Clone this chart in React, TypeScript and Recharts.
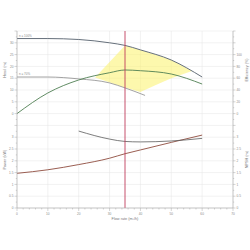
import {
  ComposedChart,
  Line,
  Area,
  XAxis,
  YAxis,
  CartesianGrid,
  ReferenceLine,
} from 'recharts';

// pump curves
const flow = [0, 10, 20, 30, 35, 40, 50, 60];
const headFull = [31.8, 31.8, 31.4, 30.0, 28.9, 27.0, 22.7, 15.5];
const efficiency = [0, 35, 57, 69.3, 73.9, 72.7, 67.1, 50.1];
const power = [1.47, 1.62, 1.84, 2.11, 2.3, 2.46, 2.78, 3.09];

const flowMin = [0, 10, 20, 30, 35, 41.5];
const headMin = [15.5, 15.5, 14.7, 13.0, 10.9, 7.7];

const flowNpsh = [20, 30, 35, 40, 50, 60];
const npsh = [3.26, 2.92, 2.82, 2.8, 2.84, 2.95];

// operating window (yellow)
const zoneFlow = [25.3, 35, 40, 45, 50, 56.7];
const zoneTop = [15.3, 28.9, 27.0, 24.9, 22.7, 18.0];
const zoneBottom = [15.3, 11.05, 9.15, 12.1, 15.0, 18.0];

const dutyFlow = 35;

const flowTicks = [0, 10, 20, 30, 40, 50, 60, 70];
const headTicks = [0, 5, 10, 15, 20, 25, 30];
const effTicks = [0, 20, 40, 60, 80, 100];
const powerTicks = [0, 0.5, 1, 1.5, 2, 2.5, 3];
const npshTicks = [0, 0.5, 1, 1.5, 2, 2.5, 3];

// the plot is split in 15 grid rows: lower 7 for power/npsh, upper for head/eff
const ROWS = 15;
const TOP_BASE = 8;
const HEAD_STEP = 5;
const EFF_STEP = 20;
const LOW_STEP = 0.5;

const fullData = flow.map((q, i) => ({ q, head: headFull[i], eff: efficiency[i], power: power[i] }));
const minData = flowMin.map((q, i) => ({ q, head: headMin[i] }));
const npshData = flowNpsh.map((q, i) => ({ q, npsh: npsh[i] }));
const zoneData = zoneFlow.map((q, i) => ({ q, range: [zoneBottom[i], zoneTop[i]] }));

const font = '"Liberation Sans", Arial, sans-serif';
const tickColor = '#8a8a8a';
const axisColor = '#a8a8a8';

const leftLabels: Record<string, string> = {};
headTicks.forEach((h) => (leftLabels[String(TOP_BASE + h / HEAD_STEP)] = String(h)));
powerTicks.forEach((p) => (leftLabels[String(p / LOW_STEP)] = String(p)));
const rightLabels: Record<string, string> = {};
effTicks.forEach((e) => (rightLabels[String(TOP_BASE + e / EFF_STEP)] = String(e)));
npshTicks.forEach((n) => (rightLabels[String(n / LOW_STEP)] = String(n)));

const rowTicks: number[] = [];
for (let v = 0; v <= ROWS; v += 0.5) rowTicks.push(v);
const gridRows: number[] = [];
for (let v = 0; v <= ROWS; v++) gridRows.push(v);
const flowMinor: number[] = [];
for (let q = 0; q <= 70; q += 2) flowMinor.push(q);

function XTick(props: any) {
  const { x, y, payload } = props;
  const major = payload.value % 10 === 0;
  return (
    <g>
      <line x1={x} x2={x} y1={y} y2={y + (major ? 3 : 1.5)} stroke={axisColor} strokeWidth={0.5} />
      {major && (
        <text x={x} y={y + 7} textAnchor="middle" fontSize={3.2} fill={tickColor} fontFamily={font}>
          {payload.value}
        </text>
      )}
    </g>
  );
}

function makeYTick(labels: Record<string, string>, side: number) {
  return function YTick(props: any) {
    const { x, y, payload } = props;
    const label = labels[String(payload.value)];
    const major = Number.isInteger(payload.value);
    const len = major ? 2.5 : 1.2;
    return (
      <g>
        <line x1={x} x2={x + side * len} y1={y} y2={y} stroke={axisColor} strokeWidth={0.5} />
        {label !== undefined && (
          <text
            x={x + side * 3.5}
            y={y + 1.1}
            textAnchor={side < 0 ? 'end' : 'start'}
            fontSize={3.2}
            fill={tickColor}
            fontFamily={font}
          >
            {label}
          </text>
        )}
      </g>
    );
  };
}

function sideTitles(a: string, b: string, side: number) {
  return function Titles(props: any) {
    const { x, y, width, height } = props.viewBox;
    const cx = side < 0 ? x + 6.5 : x + width - 2;
    const ya = y + (height * (ROWS - 11.7)) / ROWS;
    const yb = y + (height * (ROWS - 4.1)) / ROWS;
    return (
      <g fontSize={3.8} fill="#7a7a7a" fontFamily={font} textAnchor="middle">
        <text x={cx} y={ya} transform={`rotate(-90 ${cx} ${ya})`}>{a}</text>
        <text x={cx} y={yb} transform={`rotate(-90 ${cx} ${yb})`}>{b}</text>
      </g>
    );
  };
}

function curveName(name: string) {
  return function CurveName(props: any) {
    if (props.index !== 0) return null;
    return (
      <text x={props.x + 2} y={props.y - 1.8} fontSize={3} fill="#8a8a8a" fontFamily={font}>
        {name}
      </text>
    );
  };
}

export default function App() {
  return (
    <div style={{ position: 'absolute', left: 0, top: 0, background: '#fff' }}>
      <ComposedChart width={250} height={250} margin={{ top: 31, right: 0, bottom: 22, left: 0 }}>
        <XAxis
          dataKey="q"
          type="number"
          domain={[0, 70]}
          ticks={flowMinor}
          interval={0}
          tick={<XTick />}
          tickLine={false}
          tickSize={0}
          tickMargin={0}
          height={20}
          axisLine={{ stroke: axisColor, strokeWidth: 0.6 }}
          allowDataOverflow
          label={{ value: 'Flow rate (m³/h)', position: 'insideBottom', offset: 8, fontSize: 3.8, fill: '#7a7a7a', fontFamily: font }}
        />
        <YAxis
          yAxisId="left"
          type="number"
          domain={[0, ROWS]}
          ticks={rowTicks}
          interval={0}
          width={17}
          allowDataOverflow
          tick={makeYTick(leftLabels, -1)}
          tickLine={false}
          tickSize={0}
          tickMargin={0}
          axisLine={{ stroke: axisColor, strokeWidth: 0.6 }}
          label={{ content: sideTitles('Head (m)', 'Power (kW)', -1) } as any}
        />
        <YAxis
          yAxisId="right"
          orientation="right"
          type="number"
          domain={[0, ROWS]}
          ticks={rowTicks}
          interval={0}
          width={17}
          allowDataOverflow
          tick={makeYTick(rightLabels, 1)}
          tickLine={false}
          tickSize={0}
          tickMargin={0}
          axisLine={{ stroke: axisColor, strokeWidth: 0.6 }}
          label={{ content: sideTitles('Efficiency (%)', 'NPSH (m)', 1) } as any}
        />
        <YAxis yAxisId="head" type="number" width={0} domain={[-TOP_BASE * HEAD_STEP, (ROWS - TOP_BASE) * HEAD_STEP]} hide allowDataOverflow />
        <YAxis yAxisId="eff" type="number" width={0} domain={[-TOP_BASE * EFF_STEP, (ROWS - TOP_BASE) * EFF_STEP]} hide allowDataOverflow />
        <YAxis yAxisId="low" type="number" width={0} domain={[0, ROWS * LOW_STEP]} hide allowDataOverflow />

        <CartesianGrid
          yAxisId="left"
          horizontalValues={gridRows}
          verticalValues={flowTicks}
          stroke="#e4e4e4"
          strokeWidth={0.5}
        />

        <Area
          data={zoneData}
          yAxisId="head"
          dataKey="range"
          type="linear"
          stroke="none"
          fill="#fbf36a"
          fillOpacity={0.55}
          isAnimationActive={false}
        />
        <Line
          data={fullData}
          yAxisId="head"
          dataKey="head"
          type="monotone"
          stroke="#55606c"
          strokeWidth={0.9}
          dot={false}
          label={curveName('n = 100%')}
          isAnimationActive={false}
        />
        <Line
          data={minData}
          yAxisId="head"
          dataKey="head"
          type="monotone"
          stroke="#8c8c8c"
          strokeWidth={0.8}
          dot={false}
          label={curveName('n = 70%')}
          isAnimationActive={false}
        />
        <Line
          data={fullData}
          yAxisId="eff"
          dataKey="eff"
          type="monotone"
          stroke="#4f7f52"
          strokeWidth={0.9}
          dot={false}
          isAnimationActive={false}
        />
        <Line
          data={fullData}
          yAxisId="low"
          dataKey="power"
          type="monotone"
          stroke="#8e4c3e"
          strokeWidth={0.9}
          dot={false}
          isAnimationActive={false}
        />
        <Line
          data={npshData}
          yAxisId="low"
          dataKey="npsh"
          type="monotone"
          stroke="#5c5c5c"
          strokeWidth={0.8}
          dot={false}
          isAnimationActive={false}
        />
        <ReferenceLine x={dutyFlow} yAxisId="left" stroke="#c03c5c" strokeWidth={0.9} />
      </ComposedChart>
    </div>
  );
}
